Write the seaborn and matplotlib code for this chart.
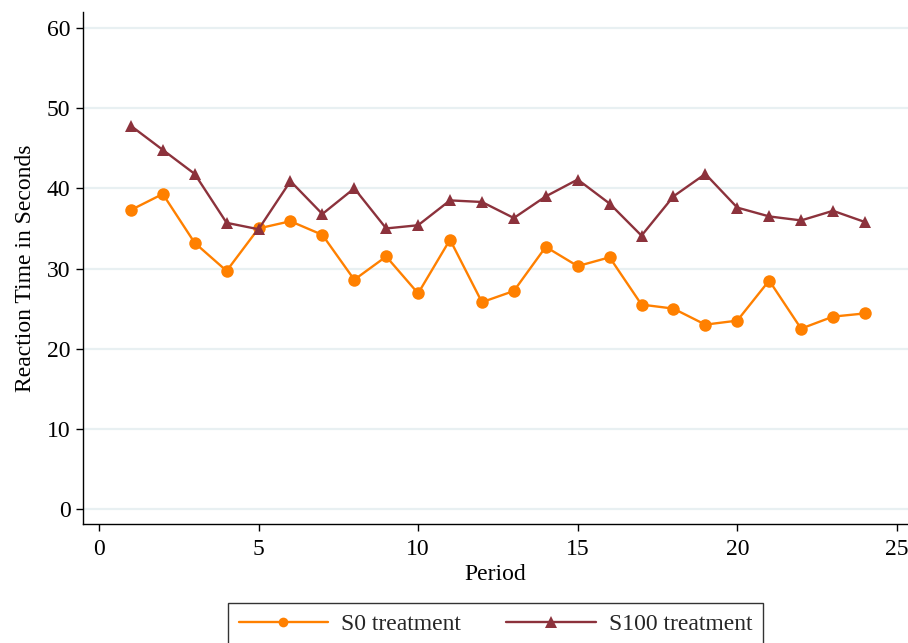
import matplotlib
matplotlib.use("Agg")
import matplotlib.pyplot as plt
import numpy as np
import pandas as pd
import seaborn as sns

periods = list(range(1, 25))
s0_times = [37.3, 39.3, 33.2, 29.7, 35.0, 35.9, 34.2, 28.6, 31.5, 26.9, 33.6, 25.8,
            27.2, 32.7, 30.3, 31.4, 25.5, 25.0, 23.0, 23.5, 28.5, 22.5, 24.0, 24.4]
s100_times = [47.8, 44.8, 41.8, 35.7, 34.9, 40.9, 36.8, 40.0, 35.0, 35.4, 38.5, 38.3,
              36.3, 39.0, 41.1, 38.1, 34.1, 39.0, 41.8, 37.6, 36.5, 36.0, 37.2, 35.8]
series_names = ["S0 treatment", "S100 treatment"]
x_ticks = [0, 5, 10, 15, 20, 25]
y_ticks = [0, 10, 20, 30, 40, 50, 60]

df = pd.DataFrame({
    "Period": periods * 2,
    "Reaction": s0_times + s100_times,
    "Treatment": [series_names[0]] * len(periods) + [series_names[1]] * len(periods),
})

sns.set_theme(style="white")
plt.rcParams["font.family"] = ["Liberation Serif", "DejaVu Serif"]

palette = {series_names[0]: "#FF8000", series_names[1]: "#8C323C"}
markers = {series_names[0]: "o", series_names[1]: "^"}
FS = 17

fig = plt.figure(figsize=(9.08, 6.43), dpi=100)
ax = fig.add_axes([83 / 908, 1 - 524 / 643, 1 - 83 / 908, (524 - 12) / 643])

sns.lineplot(data=df, x="Period", y="Reaction", hue="Treatment", style="Treatment",
             palette=palette, markers=markers, dashes=False, linewidth=1.7,
             markersize=9, markeredgewidth=0, ax=ax, legend=False)

ax.set_xlim(-0.5, 25.35)
ax.set_ylim(-1.87, 62.0)
ax.set_xticks(x_ticks)
ax.set_yticks(y_ticks)
ax.yaxis.grid(True, color="#E8F0F2", linewidth=1.6)
ax.set_axisbelow(True)
for side in ("top", "right"):
    ax.spines[side].set_visible(False)
for side in ("left", "bottom"):
    ax.spines[side].set_color("black")
    ax.spines[side].set_linewidth(1.0)
ax.tick_params(axis="both", direction="out", length=5, width=1.0, color="black",
               labelsize=FS, labelcolor="black", bottom=True, left=True)
ax.tick_params(axis="x", pad=6)
ax.tick_params(axis="y", pad=4)
ax.set_xlabel("Period", fontsize=FS, color="black", labelpad=3)
ax.set_ylabel("Reaction Time in Seconds", fontsize=FS, color="black", labelpad=8)

handles = [
    plt.Line2D([], [], color=palette[n], marker=markers[n],
               markersize=9 if n == series_names[1] else 7,
               markeredgewidth=0, linewidth=1.7)
    for n in series_names
]
leg = fig.legend(handles, series_names, loc="upper left",
                 bbox_to_anchor=(228 / 908, 1 - 603 / 643), ncol=2, fontsize=FS,
                 frameon=True, fancybox=False, edgecolor="black", handlelength=3.8,
                 handletextpad=0.55, columnspacing=1.9, borderpad=0.45, borderaxespad=0)
leg.get_frame().set_linewidth(1.0)

fig.savefig("out.png", dpi=100)
